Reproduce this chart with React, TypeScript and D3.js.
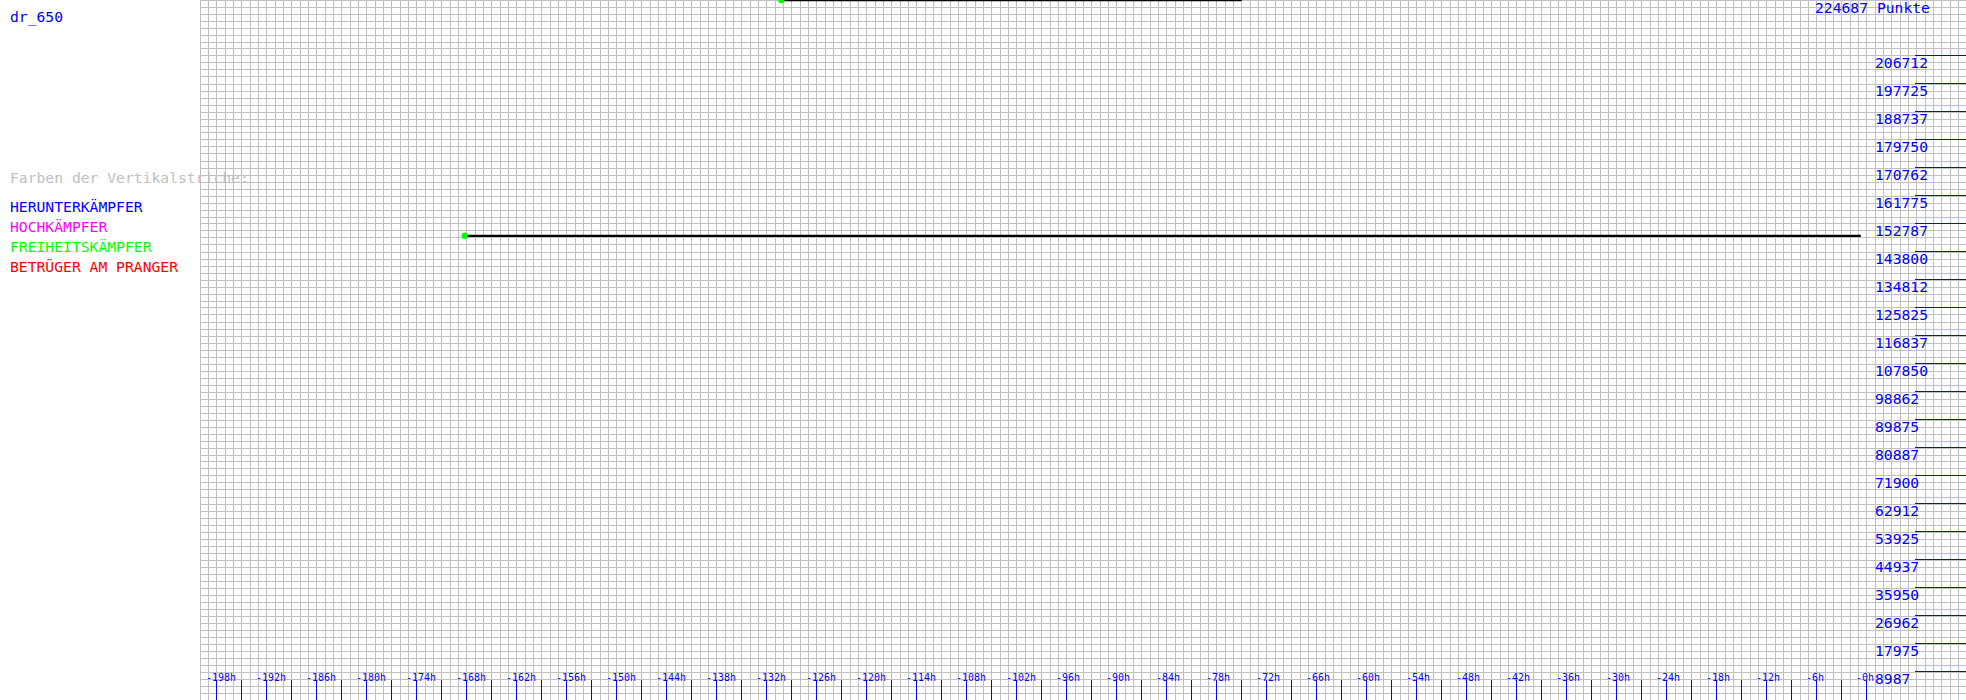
import React from "react";
import * as d3 from "d3";

const W = 1966;
const H = 700;

const title = "dr_650";
const topLabel = "224687 Punkte";
const legendTitle = "Farben der Vertikalstriche:";
const legendItems = ["HERUNTERKÄMPFER", "HOCHKÄMPFER", "FREIHEITSKÄMPFER", "BETRÜGER AM PRANGER"];
const legendColors = ["#0000ff", "#ff00ff", "#00ff00", "#ff0000"];

const yMax = 224687.5;
const yTickValues = [8987, 17975, 26962, 35950, 44937, 53925, 62912, 71900, 80887, 89875, 98862, 107850, 116837, 125825, 134812, 143800, 152787, 161775, 170762, 179750, 188737, 197725, 206712];
const xTickHours = [-198, -192, -186, -180, -174, -168, -162, -156, -150, -144, -138, -132, -126, -120, -114, -108, -102, -96, -90, -84, -78, -72, -66, -60, -54, -48, -42, -36, -30, -24, -18, -12, -6, 0];
const xMinorHours = [-195, -189, -183, -177, -171, -165, -159, -153, -147, -141, -135, -129, -123, -117, -111, -105, -99, -93, -87, -81, -75, -69, -63, -57, -51, -45, -39, -33, -27, -21, -15, -9, -3];

// data segments: hours and points
const seg1Hours = [-168, -0.7];
const seg1Values = [149000, 149000];
const seg2Hours = [-130, -75];
const seg2Values = [224687, 224687];

const MONO = "'DejaVu Sans Mono', 'Liberation Mono', monospace";

export default function App() {
  const xs = d3.scaleLinear().domain([-200, 0]).range([200, 1866.667]);
  const ys = d3.scaleLinear().domain([0, yMax]).range([H, 0]);

  const gridX: number[] = d3.range(-200, 13, 1).map((h) => Math.floor(xs(h)) + 0.5).filter((x) => x < W);
  const gridY: number[] = d3.range(0, 101, 1).map((k) => Math.floor(ys((k * yMax) / 100)) + 0.5);

  const line = d3
    .line<[number, number]>()
    .x((d) => xs(d[0]))
    .y((d) => ys(d[1]));

  const segs = [
    seg1Hours.map((h, i) => [h, seg1Values[i]] as [number, number]),
    seg2Hours.map((h, i) => [h, seg2Values[i]] as [number, number]),
  ];

  return (
    <svg
      width={W}
      height={H}
      style={{ position: "absolute", left: 0, top: 0, display: "block", background: "#fff" }}
    >
      <rect x={0} y={0} width={W} height={H} fill="#fff" />
      <g stroke="#c0c0c0" strokeWidth={1}>
        {gridX.map((x, i) => (
          <line key={"gx" + i} x1={x} x2={x} y1={0} y2={H} />
        ))}
        {gridY.map((y, i) => (
          <line key={"gy" + i} x1={200} x2={W} y1={y} y2={y} />
        ))}
      </g>

      <text x={10} y={22} fill="#0000ff" fontFamily={MONO} fontSize={14.7}>
        {title}
      </text>
      <text x={10} y={183} fill="#c0c0c0" fontFamily={MONO} fontSize={14.7}>
        {legendTitle}
      </text>
      {legendItems.map((t, i) => (
        <text key={t} x={10} y={212 + i * 20} fill={legendColors[i]} fontFamily={MONO} fontSize={14.7}>
          {t}
        </text>
      ))}

      {segs.map((s, i) => (
        <g key={"s" + i}>
          <path d={line(s) || ""} stroke="#000" strokeWidth={2.3} fill="none" />
          <circle cx={xs(s[0][0]) - 2} cy={ys(s[0][1])} r={3.2} fill="#00ff00" />
        </g>
      ))}

      <g>
        {yTickValues.map((v, i) => {
          const yl = Math.round(ys(v)) - 0.5;
          return (
            <g key={"yt" + i}>
              <line x1={1915} x2={W} y1={yl} y2={yl} stroke="#0000ff" strokeWidth={1} />
              <text x={1875} y={yl + 12.5} fill="#0000ff" fontFamily={MONO} fontSize={14.7}>
                {String(v)}
              </text>
            </g>
          );
        })}
      </g>

      <text x={1815} y={12.5} fill="#0000ff" fontFamily={MONO} fontSize={14.7}>
        {topLabel}
      </text>

      <g stroke="#0000ff" strokeWidth={1}>
        {xMinorHours.map((h) => {
          const x = Math.floor(xs(h)) + 0.5;
          return <line key={"mt" + h} x1={x} x2={x} y1={680} y2={H} />;
        })}
        {xTickHours.map((h) => {
          const x = Math.floor(xs(h)) + 0.5;
          return <line key={"t" + h} x1={x} x2={x} y1={680} y2={H} />;
        })}
      </g>
      {xTickHours.map((h) => (
        <text key={"tl" + h} x={xs(h) - 10.7} y={681} fill="#0000ff" fontFamily={MONO} fontSize={10}>
          {"-" + Math.abs(h) + "h"}
        </text>
      ))}
    </svg>
  );
}
